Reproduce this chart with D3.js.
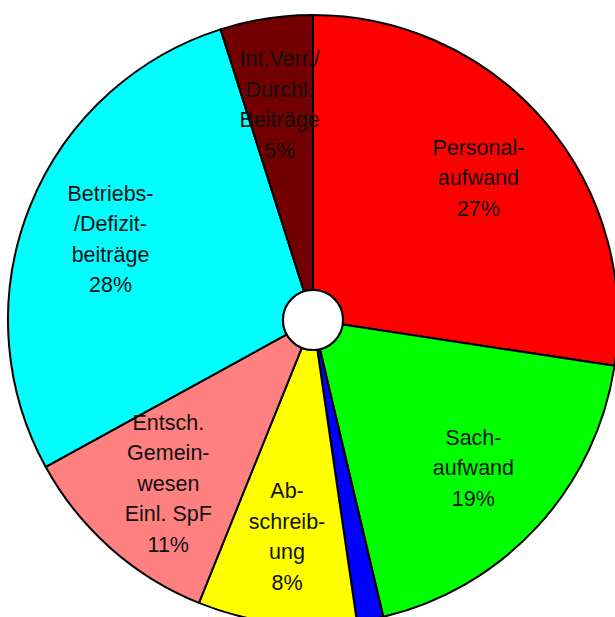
<!DOCTYPE html>
<html>
<head>
<meta charset="utf-8">
<script src="https://cdn.jsdelivr.net/npm/d3@7"></script>
<style>
  body { margin: 0; background: #fff; }
  svg { display: block; }
  .lbl { font-family: "Liberation Sans", Arial, sans-serif; font-size: 21.5px; fill: #111; }
</style>
</head>
<body>
<div id="chart"></div>
<script>
// Kategorien (Zeilen wie im Original umbrochen), Anteile in %, Farben
const labels = [
  ['Personal-', 'aufwand'],
  ['Sach-', 'aufwand'],
  [],
  ['Ab-', 'schreib-', 'ung'],
  ['Entsch.', 'Gemein-', 'wesen', 'Einl. SpF'],
  ['Betriebs-', '/Defizit-', 'beiträge'],
  ['Int.Verr./', 'Durchl.', 'Beiträge']
]
const values = [27.4, 18.9, 1.4, 8.4, 10.9, 28.1, 4.9]
const colors = ['#ff0000', '#00ff00', '#0000ff', '#ffff00', '#ff8080', '#00ffff', '#720000']

const width = 615
const height = 617
const cx = 313
const cy = 320
const radius = 305
const hole = 30

const data = values.map((v, i) => ({ lines: labels[i], value: v, color: colors[i] }))
const total = d3.sum(values)

const svg = d3.select('#chart')
  .append('svg')
  .attr('width', width)
  .attr('height', height)

const g = svg.append('g')
  .attr('transform', `translate(${cx},${cy})`)

const pie = d3.pie()
  .sort(null)
  .value(d => d.value)

const arc = d3.arc()
  .innerRadius(hole)
  .outerRadius(radius)

const labelArc = d3.arc()
  .innerRadius(radius * 0.715)
  .outerRadius(radius * 0.715)

const arcs = pie(data)

g.selectAll('path.slice')
  .data(arcs)
  .enter()
  .append('path')
  .attr('class', 'slice')
  .attr('d', arc)
  .attr('fill', d => d.data.color)
  .attr('stroke', '#000')
  .attr('stroke-width', 2)
  .attr('stroke-linejoin', 'round')

// weisses Loch in der Mitte
g.append('circle')
  .attr('r', hole)
  .attr('fill', '#fff')
  .attr('stroke', '#000')
  .attr('stroke-width', 2)

const lineH = 30.5
const pct = d3.format('.0f')

const label = g.selectAll('text.lbl')
  .data(arcs.filter(d => d.data.lines.length > 0))
  .enter()
  .append('text')
  .attr('class', 'lbl')
  .attr('text-anchor', 'middle')
  .attr('transform', d => {
    const [x, y] = labelArc.centroid(d)
    return `translate(${x},${y})`
  })

label.each(function (d) {
  const rows = d.data.lines.concat([pct(d.data.value / total * 100) + '%'])
  const top = -(rows.length - 1) / 2 * lineH
  d3.select(this).selectAll('tspan')
    .data(rows)
    .enter()
    .append('tspan')
    .attr('x', 0)
    .attr('y', (r, i) => top + i * lineH)
    .attr('dy', '0.35em')
    .text(r => r)
})
</script>
</body>
</html>
